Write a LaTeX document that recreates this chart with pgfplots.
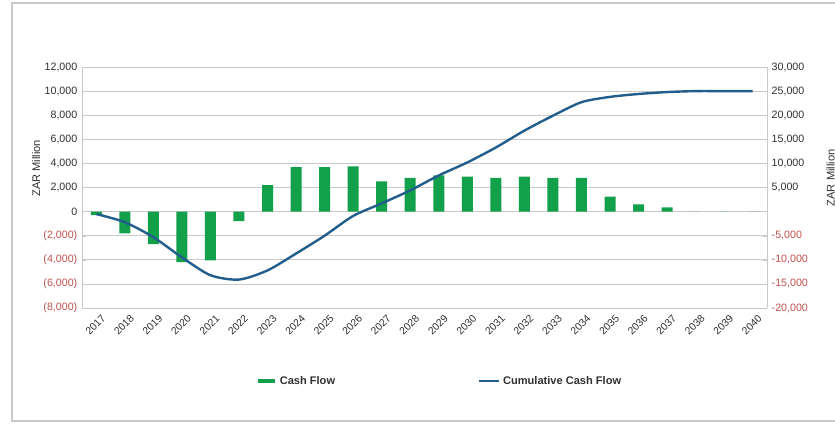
\documentclass[border=0pt]{standalone}
\usepackage{pgfplots}
\pgfplotsset{compat=1.18}
\usepackage{fontspec}
\setmainfont{Liberation Sans}
\definecolor{barg}{HTML}{13A04A}
\definecolor{cumb}{HTML}{215E8B}
\definecolor{negred}{HTML}{C0504D}
\definecolor{gridc}{HTML}{C8C8C8}
\definecolor{txt}{HTML}{303030}
\begin{document}
\begin{tikzpicture}
\draw[gridc, line width=1pt] (-52.5pt,-84.75pt) rectangle (575pt,228.75pt);
\begin{axis}[
  scale only axis, width=513.75pt, height=180.75pt,
  xmin=-0.5, xmax=23.5, ymin=-8000, ymax=12000,
  scaled y ticks=false,
  axis y line*=left, axis x line*=bottom,
  axis line style={gridc},
  xtick={0,...,23},
  xticklabels={2017,2018,2019,2020,2021,2022,2023,2024,2025,2026,2027,2028,2029,2030,2031,2032,2033,2034,2035,2036,2037,2038,2039,2040},
  xtick style={draw=none},
  xticklabel style={rotate=45, anchor=north east, font=\fontsize{7.8}{9}\selectfont, text=txt, inner sep=0.5pt, yshift=-5pt},
  ytick={-8000,-6000,...,12000},
  yticklabels={{\textcolor{negred}{(8,000)}},{\textcolor{negred}{(6,000)}},{\textcolor{negred}{(4,000)}},{\textcolor{negred}{(2,000)}},0,{2,000},{4,000},{6,000},{8,000},{10,000},{12,000}},
  yticklabel style={font=\fontsize{8}{9.6}\selectfont, text=txt},
  ytick style={gridc}, major tick length=3pt,
  ymajorgrids, grid style={gridc, line width=0.6pt},
  ylabel={ZAR Million},
  every axis y label/.style={at={(axis description cs:-0.067,0.58)}, rotate=90, anchor=center, font=\fontsize{8.3}{10}\selectfont, text=txt},
  legend columns=2,
  legend style={draw=none, fill=none, at={(0.5226,-0.303)}, anchor=center,
    font=\bfseries\fontsize{8.3}{10}\selectfont, text=txt,
    /tikz/every even column/.append style={column sep=105pt}},
]
\addplot[ybar, bar width=8.25pt, fill=barg, draw=none,
  legend image code/.code={\draw[barg, line width=3pt] (0pt,0pt) -- (12.75pt,0pt);}]
  coordinates {
  (0,-300) (1,-1800) (2,-2700) (3,-4200) (4,-4050) (5,-800)
  (6,2200) (7,3700) (8,3700) (9,3750) (10,2500) (11,2800)
  (12,3000) (13,2900) (14,2800) (15,2900) (16,2800) (17,2800)
  (18,1250) (19,600) (20,350) (21,0) (22,0) (23,0)};
\addlegendentry{Cash Flow}
\addlegendimage{legend image code/.code={\draw[cumb, line width=2pt] (0pt,0pt) -- (15pt,0pt);}}
\addlegendentry{Cumulative Cash Flow}
\end{axis}
\begin{axis}[
  scale only axis, width=513.75pt, height=180.75pt,
  xmin=-0.5, xmax=23.5, ymin=-20000, ymax=30000,
  scaled y ticks=false,
  axis y line*=right, axis x line=none,
  axis line style={gridc},
  ytick={-20000,-15000,...,30000},
  yticklabels={{\textcolor{negred}{-20,000}},{\textcolor{negred}{-15,000}},{\textcolor{negred}{-10,000}},{\textcolor{negred}{-5,000}},{},{5,000},{10,000},{15,000},{20,000},{25,000},{30,000}},
  yticklabel style={font=\fontsize{8}{9.6}\selectfont, text=txt},
  ytick style={gridc}, major tick length=3pt,
  ylabel={ZAR Million},
  every axis y label/.style={at={(axis description cs:1.093,0.54)}, rotate=90, anchor=center, font=\fontsize{8.3}{10}\selectfont, text=txt},
]
\addplot[cumb, line width=1.8pt, smooth, tension=0.45] coordinates {
  (0,-500) (1,-2200) (2,-5300) (3,-9500) (4,-13200) (5,-14100)
  (6,-12200) (7,-8700) (8,-5000) (9,-900) (10,1700) (11,4400)
  (12,7500) (13,10200) (14,13300) (15,16800) (16,19900) (17,22700)
  (18,23800) (19,24400) (20,24800) (21,25000) (22,25000) (23,25000)};
\end{axis}
\pgfresetboundingbox
\path[use as bounding box] (-61.5pt,-87.75pt) rectangle (564.75pt,231pt);
\end{tikzpicture}
\end{document}
